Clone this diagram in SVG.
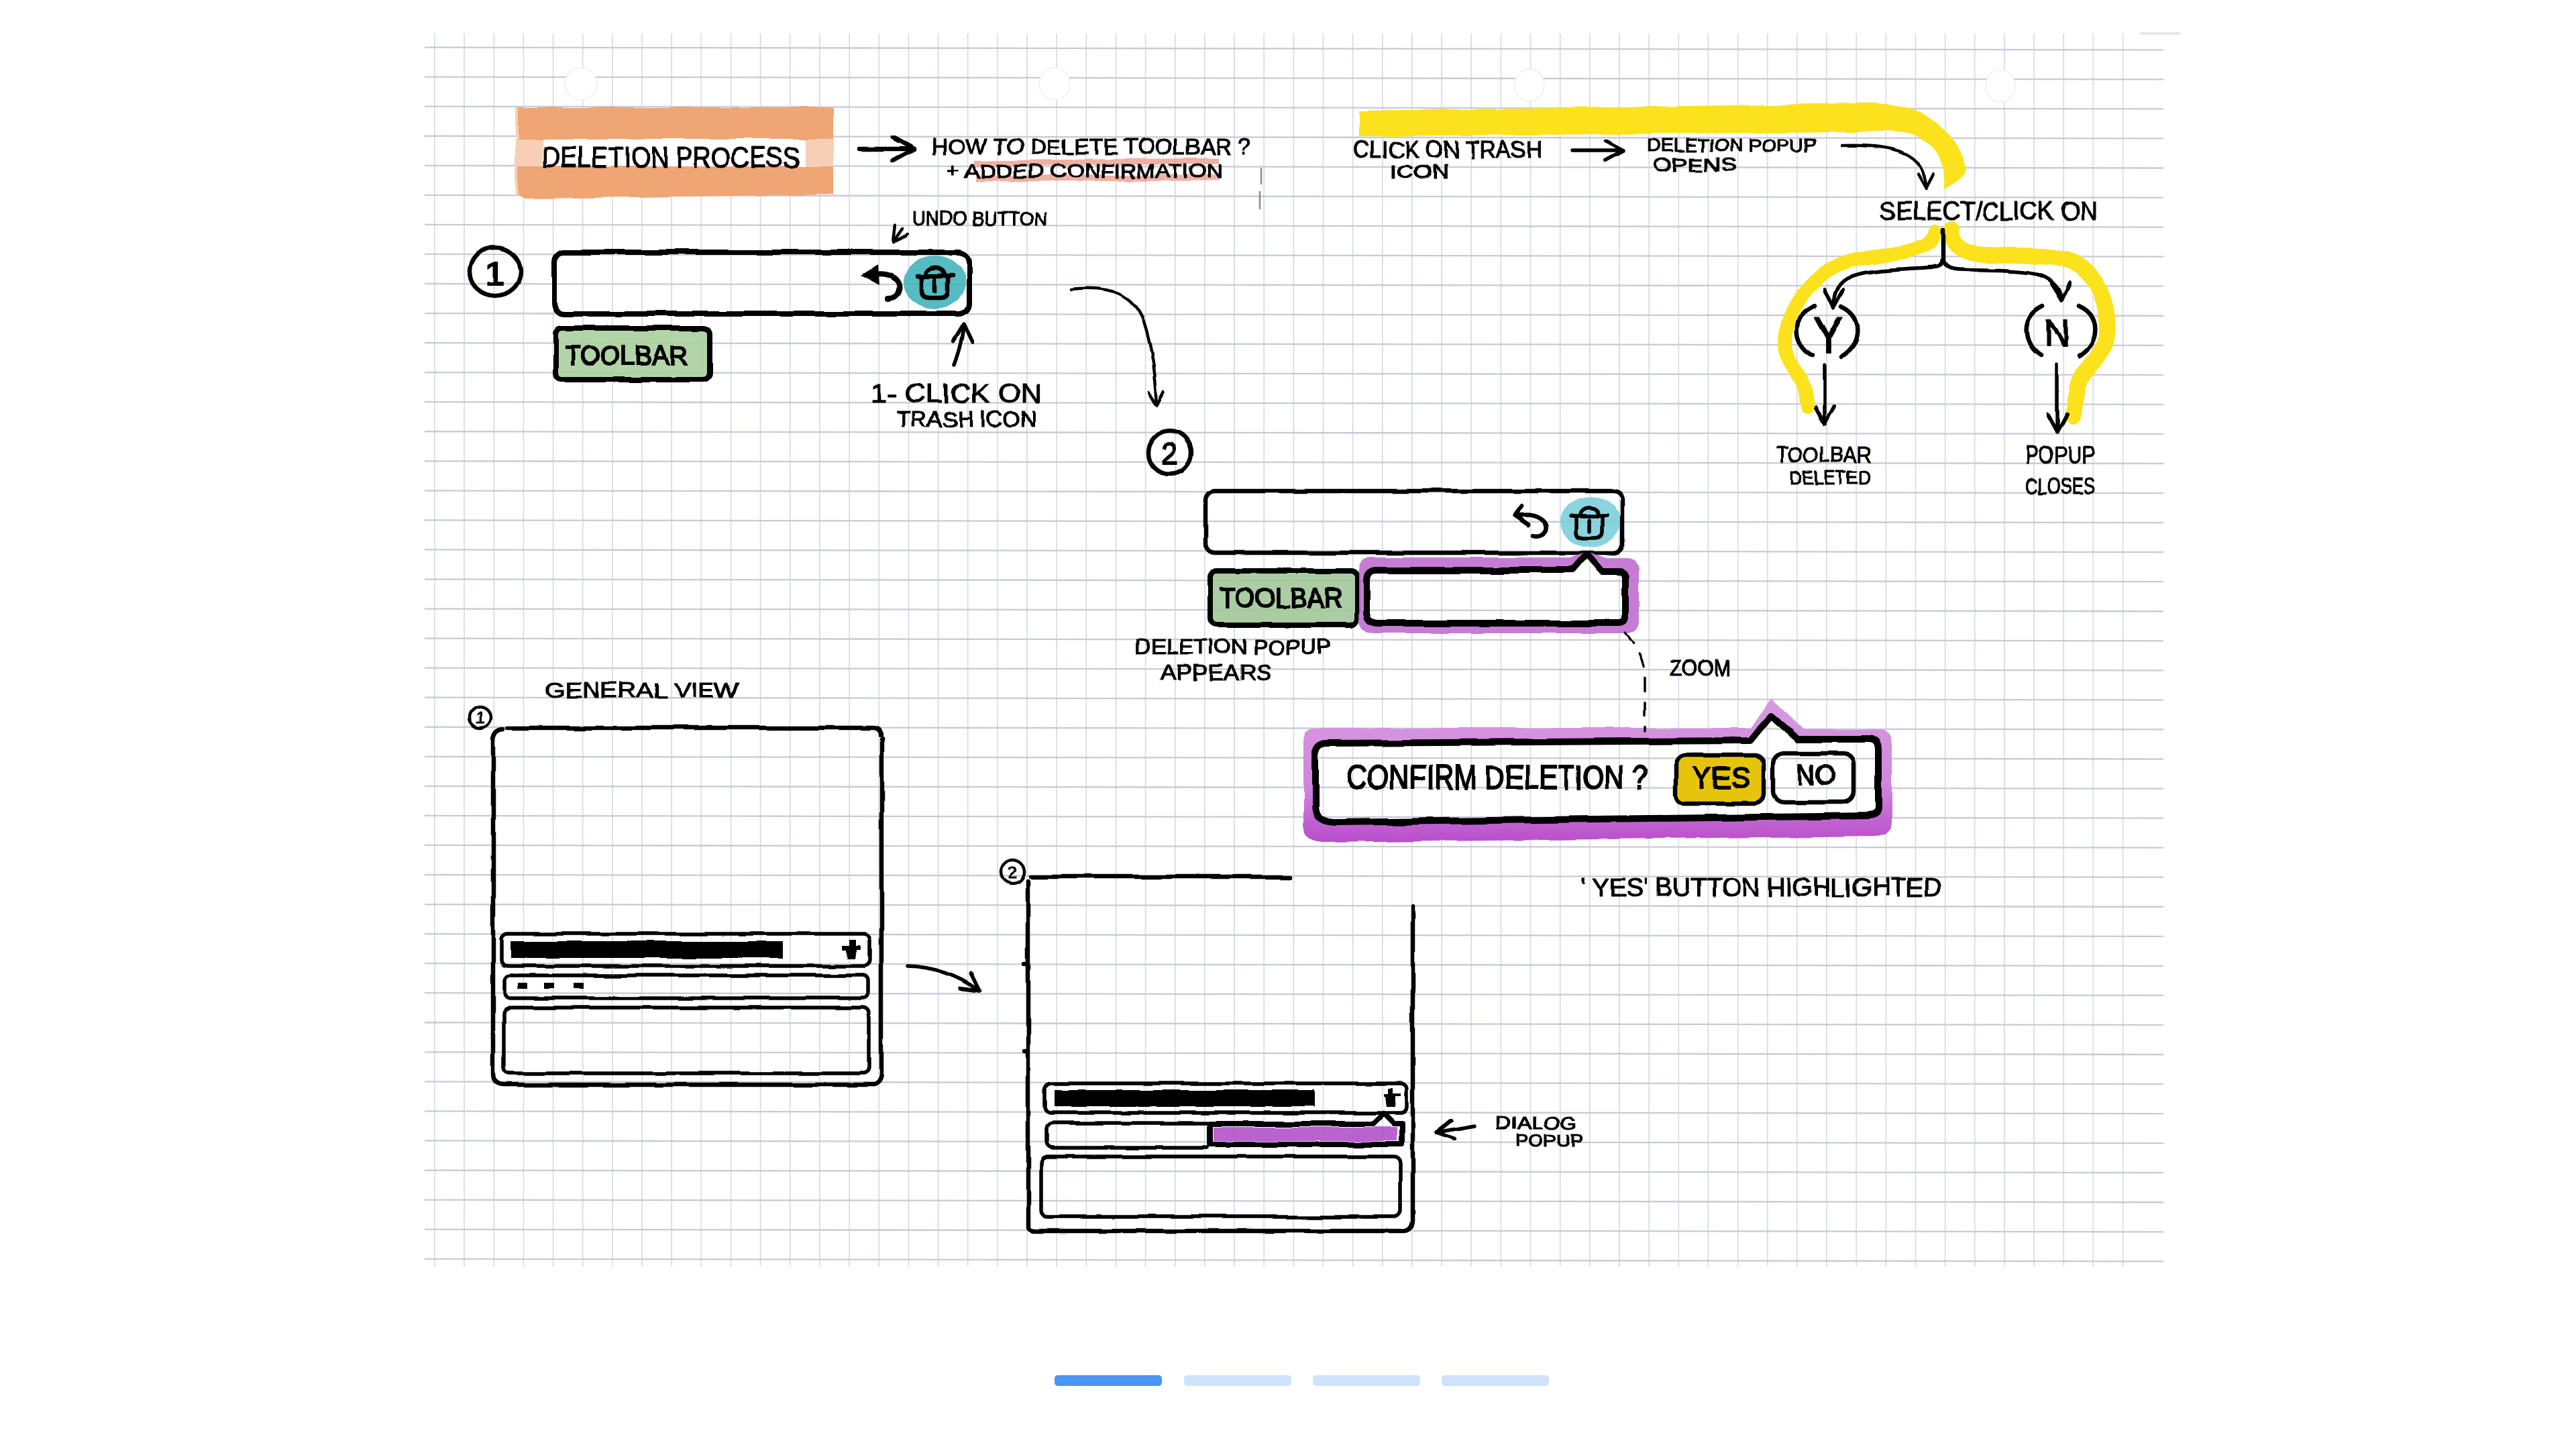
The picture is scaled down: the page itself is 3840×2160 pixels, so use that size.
<svg xmlns="http://www.w3.org/2000/svg" width="3840" height="2160" viewBox="0 0 3840 2160">
<style>
.v{fill:none;stroke:#d8dce7;stroke-width:1.8}
.h{fill:none;stroke:#c9cbd4;stroke-width:2.3}
.i{fill:none;stroke:#000;stroke-linecap:round;stroke-linejoin:round}
.s3{stroke-width:3.5}.s4{stroke-width:4.5}.s5{stroke-width:5.5}.s6{stroke-width:6.5}.s8{stroke-width:8}.s10{stroke-width:10}
.a{marker-end:url(#ah)}
.t{font-family:"Liberation Sans",Arial,sans-serif;fill:#000;stroke:#000;stroke-width:1.2}
.b{stroke-width:2}
.k{fill:#000;stroke:none}
.hole{fill:#fff;stroke:#eceef2;stroke-width:1.5}
.green{fill:#a5ce98;fill-opacity:.85}
.teal{fill:#3fb2ba;fill-opacity:.88}
.tealL{fill:#74cdd9;fill-opacity:.85}
.yel{fill:none;stroke:#fbe21a;stroke-linecap:round;stroke-linejoin:round}
.pager{fill:#cfe2fc}
</style>
<defs>
<filter id="rough" filterUnits="userSpaceOnUse" x="0" y="0" width="3840" height="2160">
<feTurbulence type="fractalNoise" baseFrequency="0.018" numOctaves="2" seed="4" result="n"/>
<feDisplacementMap in="SourceGraphic" in2="n" scale="6" xChannelSelector="R" yChannelSelector="G"/>
</filter>
<linearGradient id="halo1" x1="0" y1="0" x2="0" y2="1">
<stop offset="0" stop-color="#d79be0"/><stop offset=".6" stop-color="#d086dc"/><stop offset="1" stop-color="#b94ecb"/>
</linearGradient>
<marker id="ah" viewBox="0 0 6 6" refX="5.6" refY="3" markerWidth="6" markerHeight="6" orient="auto" markerUnits="strokeWidth">
<path d="M.8 .4L5.6 3L.8 5.6" fill="none" stroke="#000" stroke-width="1" stroke-linecap="round" stroke-linejoin="round"/>
</marker>
<g id="trash">
<path d="M-27 -9H27M-14 -10C-14 -25 14 -25 14 -10M-20 -9V14Q-20 24 -8 24H8Q20 24 20 14V-9M0 -3V14"/>
</g>
</defs>
<rect width="3840" height="2160" fill="#fff"/>
<g id="paper">
<path class="v" d="M648 50v1838m44.15-1838v1838m44.15-1838v1838m44.15-1838v1838m44.15-1838v1838m44.15-1838v1838m44.15-1838v1838m44.15-1838v1838m44.15-1838v1838m44.15-1838v1838m44.15-1838v1838m44.15-1838v1838m44.15-1838v1838m44.15-1838v1838m44.15-1838v1838m44.15-1838v1838m44.15-1838v1838m44.15-1838v1838m44.15-1838v1838m44.15-1838v1838m44.15-1838v1838m44.15-1838v1838m44.15-1838v1838m44.15-1838v1838m44.15-1838v1838m44.15-1838v1838m44.15-1838v1838m44.15-1838v1838m44.15-1838v1838m44.15-1838v1838m44.15-1838v1838m44.15-1838v1838m44.15-1838v1838m44.15-1838v1838m44.15-1838v1838m44.15-1838v1838m44.15-1838v1838m44.15-1838v1838m44.15-1838v1838m44.15-1838v1838m44.15-1838v1838m44.15-1838v1838m44.15-1838v1838m44.15-1838v1838m44.15-1838v1838m44.15-1838v1838m44.15-1838v1838m44.15-1838v1838m44.15-1838v1838m44.15-1838v1838m44.15-1838v1838m44.15-1838v1838m44.15-1838v1838m44.15-1838v1838m44.15-1838v1838m44.15-1838v1838m44.15-1838v1838m44.15-1838v1838"/>
<path class="h" d="M633 70.6l2592 3.7m-2592 40.35l2592 3.7m-2592 40.35l2592 3.7m-2592 40.35l2592 3.7m-2592 40.35l2592 3.7m-2592 40.35l2592 3.7m-2592 40.35l2592 3.7m-2592 40.35l2592 3.7m-2592 40.35l2592 3.7m-2592 40.35l2592 3.7m-2592 40.35l2592 3.7m-2592 40.35l2592 3.7m-2592 40.35l2592 3.7m-2592 40.35l2592 3.7m-2592 40.35l2592 3.7m-2592 40.35l2592 3.7m-2592 40.35l2592 3.7m-2592 40.35l2592 3.7m-2592 40.35l2592 3.7m-2592 40.35l2592 3.7m-2592 40.35l2592 3.7m-2592 40.35l2592 3.7m-2592 40.35l2592 3.7m-2592 40.35l2592 3.7m-2592 40.35l2592 3.7m-2592 40.35l2592 3.7m-2592 40.35l2592 3.7m-2592 40.35l2592 3.7m-2592 40.35l2592 3.7m-2592 40.35l2592 3.7m-2592 40.35l2592 3.7m-2592 40.35l2592 3.7m-2592 40.35l2592 3.7m-2592 40.35l2592 3.7m-2592 40.35l2592 3.7m-2592 40.35l2592 3.7m-2592 40.35l2592 3.7m-2592 40.35l2592 3.7m-2592 40.35l2592 3.7m-2592 40.35l2592 3.7m-2592 40.35l2592 3.7m-2592 40.35l2592 3.7"/>
<ellipse class="hole" cx="866" cy="125" rx="24" ry="24"/>
<ellipse class="hole" cx="1572" cy="125" rx="23" ry="24"/>
<ellipse class="hole" cx="2280" cy="127" rx="22" ry="24"/>
<ellipse class="hole" cx="2982" cy="128" rx="22" ry="24"/>
<path d="M1880 250V275M1878 285V312" stroke="#8a8a8a" stroke-width="2.5" fill="none"/>
<path d="M3190 50H3250" stroke="#e6e6e6" stroke-width="4" fill="none"/>
</g>
<g id="sketch" filter="url(#rough)">
<g id="title">
<path d="M768 160H1243V290L780 296L768 290Z" fill="#f7cfb6"/>
<path d="M772 160H1243V207H772ZM772 248H1243V290L780 296L772 290Z" fill="#ef9f6c" fill-opacity=".88"/>
<rect x="809" y="207" width="391" height="41" fill="#fff"/>
<text class="t" x="808" y="250" font-size="44" textLength="384" lengthAdjust="spacingAndGlyphs" stroke-width="2">DELETION PROCESS</text>
</g>
<g id="question">
<path d="M1453 244L1816 240M1455 266L1818 265" fill="none" stroke="#eb9d8c" stroke-width="9" stroke-opacity=".8"/>
<text class="t" x="1389" y="230" font-size="34" textLength="475" lengthAdjust="spacingAndGlyphs">HOW TO DELETE TOOLBAR ?</text>
<text class="t" x="1412" y="265" font-size="30" textLength="410" lengthAdjust="spacingAndGlyphs">+ ADDED CONFIRMATION</text>
</g>
<g id="step-1-badge">
<ellipse class="i s6" cx="738" cy="405" rx="38" ry="36"/>
<text class="t b" x="738" y="425" font-size="52" text-anchor="middle">1</text>
</g>
<g id="toolbar-1">
<rect x="826" y="376" width="619" height="92" rx="16" class="i s8"/>
<ellipse class="teal" cx="1393" cy="421" rx="47" ry="40"/>
<use href="#trash" x="1394" y="420" class="i s6"/>
<path class="i s8" d="M1305 409C1330 405 1343 420 1340 432C1338 442 1330 445 1323 445"/>
<path class="k" d="M1283 410L1309 394L1311 425Z"/>
</g>
<g id="undo-label">
<text class="t" x="1360" y="336" font-size="30" textLength="201" lengthAdjust="spacingAndGlyphs">UNDO BUTTON</text>
</g>
<g id="toolbar-tag-1">
<rect x="828" y="489" width="230" height="77" rx="10" class="green"/>
<rect x="828" y="489" width="230" height="77" rx="10" class="i s8"/>
<text class="t b" x="842" y="544" font-size="40" textLength="184" lengthAdjust="spacingAndGlyphs">TOOLBAR</text>
</g>
<g id="click-label">
<text class="t" x="1298" y="600" font-size="40" textLength="255" lengthAdjust="spacingAndGlyphs">1- CLICK ON</text>
<text class="t" x="1337" y="636" font-size="34" textLength="208" lengthAdjust="spacingAndGlyphs">TRASH ICON</text>
</g>
<g id="step-2-badge">
<circle class="i s6" cx="1744" cy="675" r="32"/>
<text class="t b" x="1744" y="692" font-size="46" text-anchor="middle">2</text>
</g>
<g id="toolbar-2">
<rect x="1797" y="732" width="622" height="92" rx="14" class="i s6"/>
<ellipse class="tealL" cx="2371" cy="778" rx="45" ry="37"/>
<use href="#trash" x="2369" y="778" class="i s5"/>
<path class="i s6" d="M2270 768C2295 765 2310 780 2306 790C2302 798 2292 800 2285 798M2270 768L2258 768M2268 754L2258 768L2278 782"/>
</g>
<g id="toolbar-tag-2">
<rect x="1803" y="851" width="220" height="81" rx="10" fill="#a3c79a" fill-opacity=".9"/>
<rect x="1803" y="851" width="220" height="81" rx="10" class="i s8"/>
<text class="t b" x="1818" y="905" font-size="40" textLength="184" lengthAdjust="spacingAndGlyphs">TOOLBAR</text>
</g>
<g id="popup-small">
<path fill-rule="evenodd" fill="#c06ed0" fill-opacity=".9" d="M2045 831H2340L2365 822L2395 832H2425Q2443 832 2443 850V925Q2443 943 2425 944H2050Q2026 944 2025 920V850Q2026 831 2045 831ZM2052 850H2344L2365 826L2388 852H2413Q2423 852 2423 862V920Q2423 929 2413 929H2055Q2037 929 2037 912V866Q2037 850 2052 850Z"/>
<path class="i s10" d="M2052 850H2344L2365 826L2388 852H2413Q2423 852 2423 862V920Q2423 929 2413 929H2055Q2037 929 2037 912V866Q2037 850 2052 850Z"/>
</g>
<g id="popup-label">
<text class="t" x="1692" y="975" font-size="32" textLength="293" lengthAdjust="spacingAndGlyphs">DELETION POPUP</text>
<text class="t" x="1730" y="1014" font-size="34" textLength="166" lengthAdjust="spacingAndGlyphs">APPEARS</text>
</g>
<g id="zoom-label">
<text class="t" x="2489" y="1007" font-size="32" textLength="91" lengthAdjust="spacingAndGlyphs">ZOOM</text>
</g>
<g id="popup-large">
<path fill-rule="evenodd" fill="url(#halo1)" d="M1960 1085H2610L2640 1040L2690 1088H2795Q2820 1088 2820 1112V1225Q2820 1245 2795 1246L1975 1256Q1944 1256 1943 1230V1105Q1944 1085 1960 1085ZM1978 1108L2609 1104L2640 1066L2680 1102H2785Q2800 1102 2800 1118V1205Q2800 1215 2785 1216L1990 1226Q1960 1226 1960 1200V1130Q1960 1108 1978 1108Z"/>
<path class="i s10" d="M1978 1108L2609 1104L2640 1066L2680 1102H2785Q2800 1102 2800 1118V1205Q2800 1215 2785 1216L1990 1226Q1960 1226 1960 1200V1130Q1960 1108 1978 1108Z"/>
<text class="t b" transform="translate(2008 1176) scale(.8 1)" font-size="50" textLength="560" lengthAdjust="spacingAndGlyphs">CONFIRM DELETION ?</text>
<g id="btn-yes">
<rect x="2498" y="1126" width="132" height="72" rx="14" fill="#e6c40c"/>
<rect x="2498" y="1126" width="132" height="72" rx="14" class="i s6"/>
<text class="t b" x="2522" y="1175" font-size="44" textLength="87" lengthAdjust="spacingAndGlyphs">YES</text>
</g>
<g id="btn-no">
<rect x="2644" y="1123" width="119" height="73" rx="16" class="i s6"/>
<text class="t b" x="2678" y="1169" font-size="42" textLength="58" lengthAdjust="spacingAndGlyphs">NO</text>
</g>
</g>
<g id="highlight-label">
<text class="t" x="2357" y="1336" font-size="38" textLength="537" lengthAdjust="spacingAndGlyphs">' YES' BUTTON HIGHLIGHTED</text>
</g>
<g id="flow-1">
<path fill="#fbe21a" d="M2026 165L2400 160L2767 154C2860 150 2915 185 2932 252C2930 265 2915 275 2897 283C2905 250 2890 215 2850 200C2820 192 2790 196 2767 197L2026 203Z"/>
<text class="t" x="2017" y="236" font-size="36" textLength="282" lengthAdjust="spacingAndGlyphs">CLICK ON TRASH</text>
<text class="t" x="2072" y="266" font-size="27" textLength="88" lengthAdjust="spacingAndGlyphs">ICON</text>
</g>
<g id="fork-highlight">
<path class="yel" stroke-width="20" d="M2884 345C2880 365 2860 372 2830 378C2780 385 2735 385 2705 420C2675 450 2661 480 2661 510C2661 545 2690 560 2693 590L2695 606"/>
<path class="yel" stroke-width="24" d="M2909 342C2908 365 2925 378 2960 380C3010 382 3075 378 3100 395C3125 415 3140 440 3142 490C3145 530 3105 545 3098 575L3090 620"/>
</g>
<g id="flow-2">
<text class="t" x="2455" y="226" font-size="28" textLength="252" lengthAdjust="spacingAndGlyphs">DELETION POPUP</text>
<text class="t" x="2464" y="255" font-size="28" textLength="125" lengthAdjust="spacingAndGlyphs">OPENS</text>
</g>
<g id="flow-select">
<text class="t" x="2802" y="328" font-size="38" textLength="325" lengthAdjust="spacingAndGlyphs">SELECT/CLICK ON</text>
</g>
<g id="node-y">
<path class="i s6" d="M2705 456C2684 465 2676 480 2678 498C2680 512 2690 524 2702 530M2745 456C2764 465 2771 480 2769 498C2767 512 2758 524 2746 532"/>
<text class="t b" x="2726" y="526" font-size="78" text-anchor="middle" textLength="44" lengthAdjust="spacingAndGlyphs">Y</text>
</g>
<g id="node-n">
<path class="i s6" d="M3045 456C3026 465 3019 480 3021 498C3023 512 3032 524 3042 530M3100 456C3120 465 3126 480 3124 498C3122 512 3112 524 3100 532"/>
<text class="t b" x="3067" y="516" font-size="58" text-anchor="middle" textLength="38" lengthAdjust="spacingAndGlyphs">N</text>
</g>
<g id="result-y">
<text class="t" x="2648" y="689" font-size="34" textLength="141" lengthAdjust="spacingAndGlyphs">TOOLBAR</text>
<text class="t" x="2668" y="722" font-size="30" textLength="121" lengthAdjust="spacingAndGlyphs">DELETED</text>
</g>
<g id="result-n">
<text class="t" x="3019" y="692" font-size="38" textLength="104" lengthAdjust="spacingAndGlyphs">POPUP</text>
<text class="t" x="3019" y="736" font-size="34" textLength="104" lengthAdjust="spacingAndGlyphs">CLOSES</text>
</g>
<g id="view-1">
<text class="t" x="812" y="1040" font-size="32" textLength="290" lengthAdjust="spacingAndGlyphs">GENERAL VIEW</text>
<circle class="i s4" cx="716" cy="1070" r="16"/>
<text class="t" x="716" y="1079" font-size="24" text-anchor="middle" stroke-width="1">1</text>
<path class="i s6" d="M757 1085H1300Q1312 1085 1312 1096M1314 1102V1600Q1314 1612 1304 1617H752Q735 1617 735 1600V1102Q737 1088 750 1087"/>
<rect x="747" y="1392" width="550" height="48" rx="9" class="i s5"/>
<rect x="760" y="1403" width="407" height="25" class="k"/>
<path class="k" d="M1266 1401H1276V1410H1284V1416H1278L1276 1429H1264L1262 1416H1256V1410H1266Z"/>
<rect x="752" y="1454" width="542" height="34" rx="8" class="i s5"/>
<rect x="772" y="1465" width="14" height="9" class="k"/>
<rect x="811" y="1465" width="15" height="9" class="k"/>
<rect x="855" y="1465" width="15" height="9" class="k"/>
<rect x="751" y="1502" width="545" height="98" rx="9" class="i s5"/>
</g>
<g id="view-2">
<circle class="i s4" cx="1510" cy="1300" r="18"/>
<text class="t" x="1510" y="1310" font-size="26" text-anchor="middle" stroke-width="1">2</text>
<path class="i s6" d="M1537 1307H1922M1533 1314V1830Q1534 1835 1545 1835H2092Q2105 1835 2106 1820V1351M1527 1436H1533M1527 1568H1533"/>
<rect x="1557" y="1615" width="540" height="44" rx="9" class="i s5"/>
<rect x="1571" y="1625" width="388" height="25" class="k"/>
<path class="k" d="M2068 1622H2076V1630H2088V1634H2080L2080 1650H2066L2064 1634H2062V1630H2068Z"/>
<path class="i s5" d="M1800 1674H1572Q1561 1674 1561 1684V1702Q1562 1711 1572 1711H1800"/>
<rect x="1809" y="1680" width="274" height="21" fill="#b14fc8" fill-opacity=".88"/>
<path class="i s8" d="M1804 1675H2048L2063 1660L2078 1675H2090V1706H1804Z"/>
<rect x="1552" y="1724" width="536" height="90" rx="10" class="i s5"/>
<text class="t" x="2230" y="1683" font-size="26" textLength="121" lengthAdjust="spacingAndGlyphs">DIALOG</text>
<text class="t" x="2259" y="1709" font-size="26" textLength="101" lengthAdjust="spacingAndGlyphs">POPUP</text>
</g>
<g id="connectors">
<path class="i s6 a" d="M1281 222H1362"/>
<path class="i s4 a" d="M1345 340L1331 360"/>
<path class="i s5 a" d="M1423 544C1430 525 1436 505 1437 483"/>
<path class="i s4 a" d="M1597 431C1660 425 1690 440 1705 480C1718 520 1723 560 1725 605"/>
<path class="i s5 a" d="M2344 224H2420"/>
<path class="i s4 a" d="M2746 217C2820 215 2870 225 2871 281"/>
<path class="i s6" d="M2896 342V385Q2896 397 2885 398"/>
<path class="i s5 a" d="M2885 398C2840 402 2790 400 2760 412C2740 420 2733 435 2733 458"/>
<path class="i s5 a" d="M2896 385Q2897 401 2920 402C2960 404 3010 402 3040 410C3060 418 3072 430 3073 448"/>
<path class="i s5 a" d="M2720 545V632"/>
<path class="i s5 a" d="M3066 543V644"/>
<path class="i s3" stroke-dasharray="20 17" d="M2423 943C2440 965 2452 985 2452 1010V1090"/>
<path class="i s5 a" d="M1352 1440C1395 1441 1430 1455 1461 1477"/>
<path class="i s5 a" d="M2198 1679L2140 1689"/>
</g>
</g>
<g id="pager">
<rect x="1572" y="2050" width="160" height="16" rx="5" fill="#4a94f5"/>
<rect x="1765" y="2050" width="160" height="16" rx="5" class="pager"/>
<rect x="1957" y="2050" width="160" height="16" rx="5" class="pager"/>
<rect x="2149" y="2050" width="160" height="16" rx="5" class="pager"/>
</g>
</svg>
